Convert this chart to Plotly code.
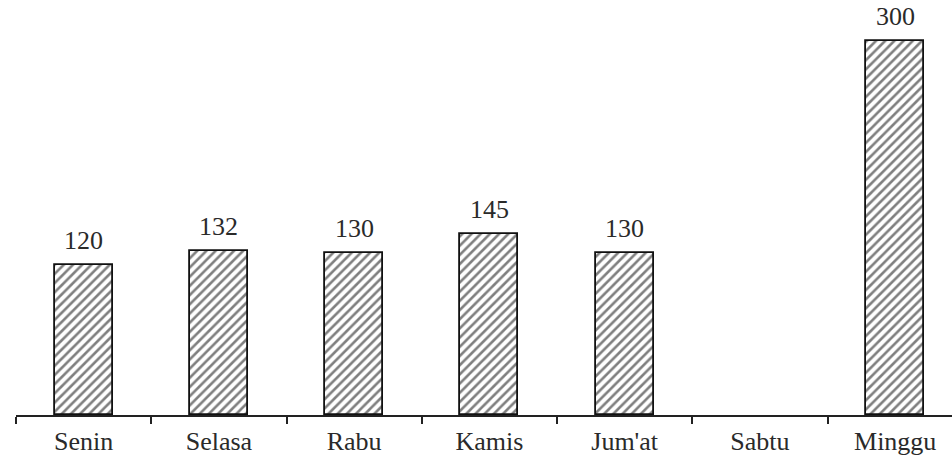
import plotly.graph_objects as go

# Daily counts per weekday (Sabtu has no entry)
hari = ["Senin", "Selasa", "Rabu", "Kamis", "Jum'at", "Sabtu", "Minggu"]
jumlah = [120, 132, 130, 145, 130, None, 300]

SERIF = "Liberation Serif"
INK = "#2a2a2a"

fig = go.Figure(
    go.Bar(
        x=hari,
        y=jumlah,
        width=0.43,
        marker=dict(
            color="white",
            line=dict(color="#111111", width=1.8),
            pattern=dict(shape="/", fgcolor="#000000", bgcolor="white",
                         size=6.5, solidity=0.4),
        ),
        hoverinfo="x+y",
    )
)

# value labels above each bar
for h, v in zip(hari, jumlah):
    if v is None:
        continue
    fig.add_annotation(
        x=h, y=v, text=str(v), showarrow=False,
        yanchor="bottom", yshift=8,
        font=dict(family=SERIF, size=26, color=INK),
    )

fig.update_layout(
    width=952,
    height=457,
    margin=dict(l=16, r=0, t=0, b=42),
    paper_bgcolor="white",
    plot_bgcolor="white",
    showlegend=False,
    bargap=0,
)

fig.update_xaxes(
    range=[-0.5, 6.42],
    showline=True,
    linecolor="#222222",
    linewidth=2,
    ticks="outside",
    tickson="boundaries",
    ticklen=7,
    tickwidth=2,
    tickcolor="#222222",
    ticklabelstandoff=2,
    showgrid=False,
    tickfont=dict(family=SERIF, size=26, color=INK),
)

fig.update_yaxes(
    range=[0, 333],
    visible=False,
    showgrid=False,
    zeroline=False,
)

fig.write_html("out.html")
